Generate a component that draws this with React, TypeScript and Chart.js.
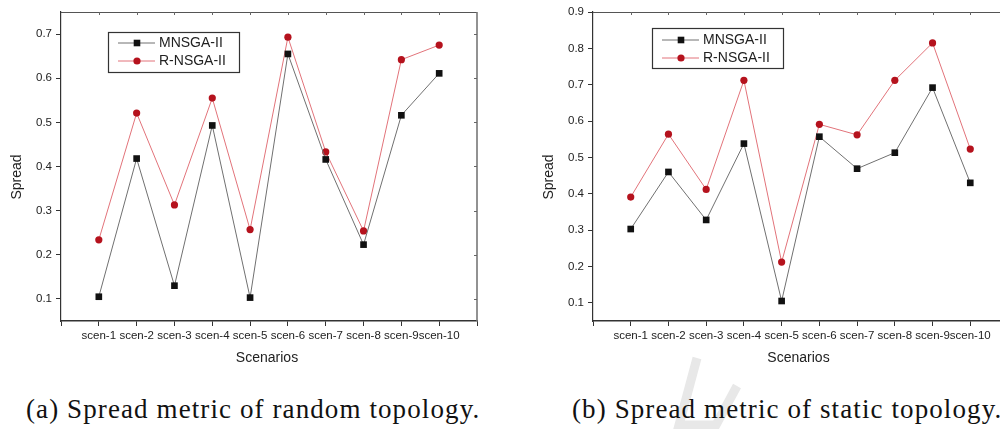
import React, { useEffect, useRef } from "react";
import { Chart, registerables } from "chart.js";

Chart.register(...registerables);

// ---------- data ----------
const categories = ["scen-1", "scen-2", "scen-3", "scen-4", "scen-5", "scen-6", "scen-7", "scen-8", "scen-9", "scen-10"];
const seriesNames = ["MNSGA-II", "R-NSGA-II"];

const randomMNSGA = [0.105, 0.418, 0.13, 0.493, 0.103, 0.655, 0.416, 0.223, 0.516, 0.611];
const randomRNSGA = [0.234, 0.521, 0.313, 0.555, 0.257, 0.693, 0.433, 0.254, 0.642, 0.675];
const staticMNSGA = [0.303, 0.46, 0.328, 0.538, 0.105, 0.557, 0.469, 0.513, 0.692, 0.43];
const staticRNSGA = [0.391, 0.564, 0.412, 0.712, 0.212, 0.591, 0.562, 0.712, 0.815, 0.523];

const randomYTicks = [0.1, 0.2, 0.3, 0.4, 0.5, 0.6, 0.7];
const staticYTicks = [0.1, 0.2, 0.3, 0.4, 0.5, 0.6, 0.7, 0.8, 0.9];
const randomYRange = [0.05, 0.75];
const staticYRange = [0.05, 0.9];

const captionA = "(a) Spread metric of random topology.";
const captionB = "(b) Spread metric of static topology.";
const yTitle = "Spread";
const xTitle = "Scenarios";

// ---------- styles ----------
const SANS = "'Liberation Sans', Arial, Helvetica, sans-serif";
const TEXT = "#222";
const AXIS = "#333";
const M_LINE = "#707070";
const M_POINT = "#111111";
const R_LINE = "#e2737a";
const R_POINT = "#b5121d";

type PanelProps = {
  left: number;
  mVals: number[];
  rVals: number[];
  yTicks: number[];
  yRange: number[];
  yAxisWidth: number;
  padRight: number;
  legendX: number;
  legendY: number;
  legendRowA: number;
  legendRowB: number;
};

function drawMarker(ctx: CanvasRenderingContext2D, kind: string, x: number, y: number) {
  ctx.save();
  if (kind === "rect") {
    ctx.fillStyle = M_POINT;
    ctx.fillRect(x - 3.3, y - 3.3, 6.6, 6.6);
  } else {
    ctx.fillStyle = R_POINT;
    ctx.beginPath();
    ctx.arc(x, y, 3.6, 0, Math.PI * 2);
    ctx.fill();
  }
  ctx.restore();
}

function Panel(p: PanelProps) {
  const ref = useRef<HTMLCanvasElement | null>(null);

  useEffect(() => {
    const canvas = ref.current;
    if (!canvas) return;
    const xTickValues = [0, ...categories.map((_, i) => i + 1), categories.length + 1];

    const framePlugin = {
      id: "frame",
      afterDraw(chart: any) {
        const ctx: CanvasRenderingContext2D = chart.ctx;
        const a = chart.chartArea;
        const xs = chart.scales.x;
        const ys = chart.scales.y;
        ctx.save();
        // top and right border
        ctx.strokeStyle = "#555";
        ctx.lineWidth = 1;
        ctx.beginPath();
        ctx.moveTo(a.left, a.top + 0.5);
        ctx.lineTo(a.right, a.top + 0.5);
        ctx.stroke();
        ctx.strokeStyle = "#777";
        ctx.lineWidth = 1.6;
        ctx.beginPath();
        ctx.moveTo(a.right, a.top);
        ctx.lineTo(a.right, a.bottom);
        ctx.stroke();
        // mirror ticks
        ctx.strokeStyle = "#666";
        ctx.lineWidth = 1;
        categories.forEach((_, i) => {
          const x = Math.round(xs.getPixelForValue(i + 1)) + 0.5;
          ctx.beginPath();
          ctx.moveTo(x, a.top);
          ctx.lineTo(x, a.top + 3);
          ctx.stroke();
        });
        p.yTicks.forEach((v) => {
          const y = Math.round(ys.getPixelForValue(v)) + 0.5;
          ctx.beginPath();
          ctx.moveTo(a.right, y);
          ctx.lineTo(a.right - 3, y);
          ctx.stroke();
        });
        // axis titles
        ctx.fillStyle = TEXT;
        ctx.font = `14px ${SANS}`;
        ctx.textAlign = "center";
        ctx.textBaseline = "middle";
        ctx.fillText(xTitle, (a.left + a.right) / 2 - 2, 358);
        ctx.save();
        ctx.translate(a.left - 43.5, (a.top + a.bottom) / 2 + 10.5);
        ctx.rotate(-Math.PI / 2);
        ctx.fillText(yTitle, 0, 0);
        ctx.restore();
        // legend
        const bx = a.left + p.legendX;
        const by = p.legendY;
        ctx.fillStyle = "#fff";
        ctx.fillRect(bx, by, 131, 40);
        ctx.strokeStyle = "#333";
        ctx.lineWidth = 1.2;
        ctx.strokeRect(bx + 0.5, by + 0.5, 131, 40);
        const rows = [
          { name: seriesNames[0], y: by + p.legendRowA, line: M_LINE, kind: "rect" },
          { name: seriesNames[1], y: by + p.legendRowB, line: R_LINE, kind: "circle" },
        ];
        ctx.font = `14px ${SANS}`;
        ctx.textAlign = "left";
        rows.forEach((r) => {
          ctx.strokeStyle = r.line;
          ctx.lineWidth = 1;
          ctx.beginPath();
          ctx.moveTo(bx + 10, r.y);
          ctx.lineTo(bx + 47, r.y);
          ctx.stroke();
          drawMarker(ctx, r.kind, bx + 29, r.y);
          ctx.fillStyle = TEXT;
          ctx.fillText(r.name, bx + 51, r.y + 0.5);
        });
        ctx.restore();
      },
    };

    const chart = new Chart(canvas, {
      type: "line",
      data: {
        datasets: [
          {
            label: seriesNames[0],
            data: p.mVals.map((v, i) => ({ x: i + 1, y: v })),
            borderColor: M_LINE,
            borderWidth: 1,
            pointStyle: "rect",
            pointRadius: 4.7,
            pointBackgroundColor: M_POINT,
            pointBorderColor: M_POINT,
            pointBorderWidth: 0,
          },
          {
            label: seriesNames[1],
            data: p.rVals.map((v, i) => ({ x: i + 1, y: v })),
            borderColor: R_LINE,
            borderWidth: 1,
            pointStyle: "circle",
            pointRadius: 3.6,
            pointBackgroundColor: R_POINT,
            pointBorderColor: R_POINT,
            pointBorderWidth: 0,
          },
        ],
      },
      options: {
        responsive: false,
        animation: false,
        devicePixelRatio: 1,
        layout: { padding: { top: 12, right: p.padRight, left: 0, bottom: 0 } },
        plugins: { legend: { display: false }, tooltip: { enabled: false } },
        scales: {
          x: {
            type: "linear",
            min: 0,
            max: categories.length + 1,
            afterBuildTicks: (s: any) => {
              s.ticks = xTickValues.map((v) => ({ value: v }));
            },
            afterFit: (s: any) => {
              s.height = 59;
            },
            ticks: {
              callback: (v: any) => categories[Number(v) - 1] ?? "",
              autoSkip: false,
              maxRotation: 0,
              minRotation: 0,
              padding: 3,
              color: TEXT,
              font: { family: SANS, size: 11.5 },
            },
            grid: { drawOnChartArea: false, drawTicks: true, tickLength: 5, color: AXIS, lineWidth: 1 },
            border: { display: true, color: AXIS, width: 1.4 },
          },
          y: {
            type: "linear",
            min: p.yRange[0],
            max: p.yRange[1],
            afterBuildTicks: (s: any) => {
              s.ticks = p.yTicks.map((v) => ({ value: v }));
            },
            afterFit: (s: any) => {
              s.width = p.yAxisWidth;
            },
            ticks: {
              callback: (v: any) => Number(v).toFixed(1),
              padding: 4,
              color: TEXT,
              font: { family: SANS, size: 11.5 },
            },
            grid: { drawOnChartArea: false, drawTicks: true, tickLength: 5, color: AXIS, lineWidth: 1 },
            border: { display: true, color: AXIS, width: 1.2 },
          },
        },
      },
      plugins: [framePlugin],
    } as any);

    return () => chart.destroy();
  }, []);

  return (
    <canvas
      ref={ref}
      width={500}
      height={380}
      style={{ position: "absolute", left: p.left, top: 0, width: 500, height: 380 }}
    />
  );
}

const captionStyle: React.CSSProperties = {
  position: "absolute",
  top: 396,
  fontFamily: "'Liberation Serif', 'Times New Roman', serif",
  fontSize: 27,
  letterSpacing: "1.1px",
  lineHeight: "27px",
  color: "#111",
  whiteSpace: "nowrap",
};

export default function App() {
  return (
    <div
      style={{
        position: "fixed",
        left: 0,
        top: 0,
        width: 1000,
        height: 429,
        overflow: "hidden",
        background: "#fff",
      }}
    >
      <svg width={1000} height={429} style={{ position: "absolute", left: 0, top: 0 }}>
        <polyline
          points="697,358 679,425 716,425 737,386"
          fill="none"
          stroke="#e8e8e8"
          strokeWidth={9}
          strokeLinejoin="miter"
        />
      </svg>
      <Panel
        left={0}
        mVals={randomMNSGA}
        rVals={randomRNSGA}
        yTicks={randomYTicks}
        yRange={randomYRange}
        yAxisWidth={61}
        padRight={23}
        legendX={47}
        legendY={32}
        legendRowA={11}
        legendRowB={29}
      />
      <Panel
        left={530}
        mVals={staticMNSGA}
        rVals={staticRNSGA}
        yTicks={staticYTicks}
        yRange={staticYRange}
        yAxisWidth={63}
        padRight={22}
        legendX={59}
        legendY={28}
        legendRowA={12}
        legendRowB={30}
      />
      <div style={{ ...captionStyle, left: 26 }}>{captionA}</div>
      <div style={{ ...captionStyle, left: 572 }}>{captionB}</div>
    </div>
  );
}
